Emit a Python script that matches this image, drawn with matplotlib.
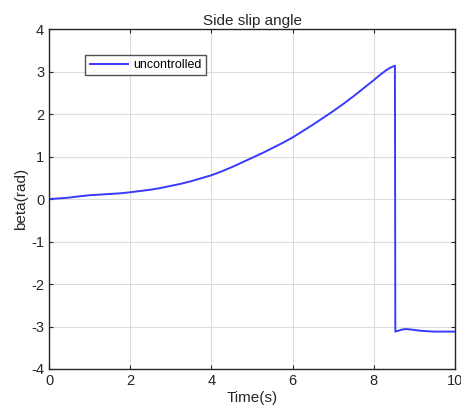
import matplotlib
matplotlib.use("Agg")
import matplotlib.pyplot as plt
import numpy as np

time_s = [0.0, 0.25, 0.5, 0.75, 1.0, 1.25, 1.5, 1.75, 2.0, 2.25, 2.5, 2.75, 3.0, 3.25, 3.5, 3.75,
          4.0, 4.25, 4.5, 4.75, 5.0, 5.25, 5.5, 5.75, 6.0, 6.25, 6.5, 6.75, 7.0, 7.25, 7.5, 7.75,
          8.0, 8.15, 8.3, 8.4, 8.52,
          8.53, 8.6, 8.7, 8.8, 9.0, 9.15, 9.3, 9.5, 9.7, 10.0]
beta_rad = [0.0, 0.015, 0.035, 0.065, 0.09, 0.105, 0.12, 0.135, 0.16, 0.19, 0.22, 0.26, 0.31, 0.36, 0.42, 0.49,
            0.56, 0.65, 0.75, 0.86, 0.97, 1.08, 1.20, 1.32, 1.45, 1.60, 1.75, 1.91, 2.07, 2.24, 2.42, 2.61,
            2.80, 2.92, 3.03, 3.09, 3.14,
            -3.12, -3.10, -3.07, -3.06, -3.08, -3.10, -3.11, -3.12, -3.12, -3.12]

plt.rcParams['font.family'] = ['Liberation Sans', 'DejaVu Sans']
plt.rcParams['axes.unicode_minus'] = False

fig = plt.figure(figsize=(4.61, 4.16), dpi=100)
ax = fig.add_axes([0.1063, 0.113, 0.8807, 0.817])
ax.plot(time_s, beta_rad, color='#3a3aff', lw=1.4, label='uncontrolled')
ax.set_xlim(0, 10)
ax.set_ylim(-4, 4)
ax.set_xticks([0, 2, 4, 6, 8, 10])
ax.set_yticks(range(-4, 5))
ax.grid(True, color='#dcdcdc', lw=0.8)
ax.tick_params(direction='in', top=True, right=True, labelsize=10.5, colors='#262626', length=3)
for s in ax.spines.values():
    s.set_color('#262626')
    s.set_linewidth(1.0)
ax.set_title('Side slip angle', fontsize=11, color='#262626', pad=3)
ax.set_xlabel('Time(s)', fontsize=11, color='#262626', labelpad=2)
ax.set_ylabel('beta(rad)', fontsize=11, color='#262626', labelpad=2)
leg = ax.legend(loc='upper left', bbox_to_anchor=(0.089, 0.925), fontsize=9, frameon=True,
                fancybox=False, edgecolor='#262626', handlelength=3.1, borderpad=0.35,
                handletextpad=0.4, borderaxespad=0)
leg.get_frame().set_linewidth(1.0)
fig.savefig('out.png', dpi=100)
